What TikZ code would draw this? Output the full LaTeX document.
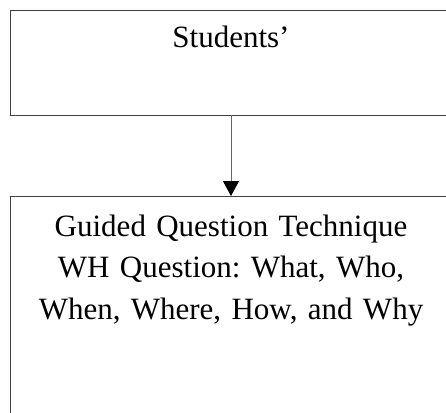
\documentclass[tikz,border=0pt]{standalone}
\usepackage{fontspec}
\setmainfont{Liberation Serif}
\usetikzlibrary{arrows.meta}
\frenchspacing

\begin{document}
\begin{tikzpicture}[x=1pt,y=-1pt,
  box/.style={draw=black!75, line width=1pt, minimum width=442pt, inner sep=0pt, outer sep=0pt, anchor=north west, font=\fontsize{31}{41.5}\selectfont},
  arr/.style={draw=black!60, line width=1pt, -{Triangle[width=16pt,length=15pt,color=black,fill=black]}}]
\useasboundingbox (0,0) rectangle (446,412);
\clip (0,0) rectangle (446,412);

\node[box, text height=37pt, text depth=67pt] (students) at (10,11) {Students’};
\node[box, text width=442pt, align=center, text height=40pt, text depth=200pt] (guided) at (10,196)
  {Guided Question Technique\\WH Question: What, Who,\\When, Where, How, and Why};

\draw[arr] (students.south) -- (guided.north);
\end{tikzpicture}
\end{document}
